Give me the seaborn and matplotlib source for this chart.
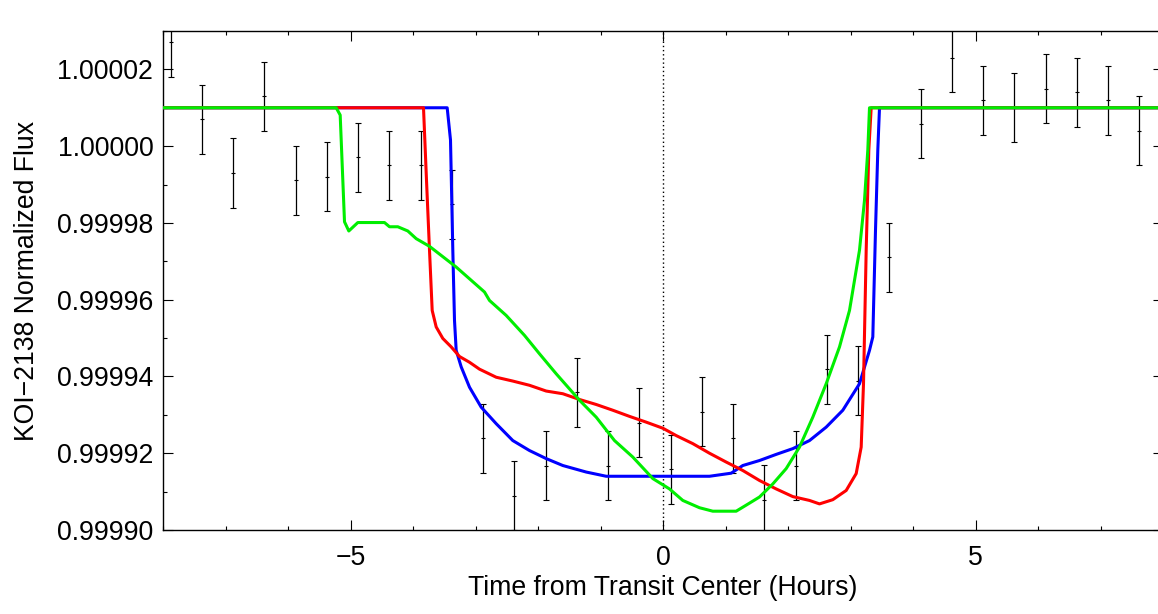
import numpy as np
import pandas as pd
import matplotlib
matplotlib.use("Agg")
import matplotlib.pyplot as plt
import seaborn as sns
from matplotlib.ticker import MultipleLocator, FormatStrFormatter

# ---- data points (binned observations) ----
obs_time = [-7.88, -7.38, -6.88, -6.38, -5.88, -5.38, -4.88, -4.38,
            -3.88, -3.38, -2.88, -2.38, -1.88, -1.38, -0.88, -0.38,
            0.12, 0.62, 1.12, 1.62, 2.12, 2.62, 3.12, 3.62,
            4.12, 4.62, 5.12, 5.62, 6.12, 6.62, 7.12, 7.62]
obs_flux = [1.0000271, 1.0000070, 0.9999930, 1.0000130, 0.9999911, 0.9999920, 0.9999971, 0.9999950,
            0.9999950, 0.9999849, 0.9999239, 0.9999089, 0.9999168, 0.9999359, 0.9999168, 0.9999279,
            0.9999158, 0.9999308, 0.9999239, 0.9999079, 0.9999168, 0.9999419, 0.9999389, 0.9999710,
            1.0000059, 1.0000230, 1.0000119, 1.0000100, 1.0000150, 1.0000140, 1.0000119, 1.0000040]
obs_err = [0.0000090] * 32

# ---- model curves ----
blue_t = [-8.0, -3.453, -3.40, -3.363, -3.336, -3.309, -3.229, -3.096, -2.909, -2.669, -2.403,
          -2.136, -1.869, -1.603, -1.229, -0.909, 0.744, 1.091, 1.277, 1.544, 1.811, 2.077,
          2.344, 2.611, 2.877, 3.144, 3.304, 3.357, 3.40, 3.437, 3.464, 8.0]
blue_f = [1.0000100, 1.0000100, 1.0000016, 0.9999729, 0.9999546, 0.9999468, 0.9999425, 0.9999372,
          0.9999320, 0.9999277, 0.9999233, 0.9999207, 0.9999186, 0.9999168, 0.9999151, 0.9999140,
          0.9999140, 0.9999148, 0.9999168, 0.9999181, 0.9999197, 0.9999212, 0.9999233, 0.9999268,
          0.9999312, 0.9999381, 0.9999468, 0.9999503, 0.9999781, 0.9999990, 1.0000100, 1.0000100]

red_t = [-8.0, -3.832, -3.784, -3.736, -3.693, -3.629, -3.523, -3.389, -3.256, -3.096, -2.936,
         -2.669, -2.403, -2.136, -1.869, -1.603, -1.336, -1.069, -0.803, -0.536, -0.269, 0.0,
         0.211, 0.477, 0.744, 1.011, 1.277, 1.544, 1.811, 2.077, 2.344, 2.504, 2.717, 2.931,
         3.091, 3.171, 3.208, 3.251, 3.293, 3.331, 8.0]
red_f = [1.0000100, 1.0000100, 0.9999911, 0.9999729, 0.9999572, 0.9999529, 0.9999499, 0.9999477,
         0.9999452, 0.9999437, 0.9999419, 0.9999398, 0.9999388, 0.9999377, 0.9999362, 0.9999355,
         0.9999340, 0.9999327, 0.9999312, 0.9999296, 0.9999281, 0.9999265, 0.9999246, 0.9999225,
         0.9999200, 0.9999177, 0.9999155, 0.9999129, 0.9999107, 0.9999087, 0.9999077, 0.9999068,
         0.9999079, 0.9999103, 0.9999147, 0.9999216, 0.9999381, 0.9999729, 0.9999990, 1.0000100,
         1.0000100]

green_t = [-8.0, -5.229, -5.165, -5.096, -5.027, -4.883, -4.456, -4.376, -4.243, -4.083, -3.949,
           -3.736, -3.309, -2.856, -2.776, -2.509, -2.216, -1.976, -1.709, -1.336, -1.069, -0.776,
           -0.483, -0.163, 0.104, 0.317, 0.584, 0.797, 1.171, 1.384, 1.544, 1.757, 1.971, 2.184,
           2.397, 2.611, 2.824, 2.984, 3.144, 3.224, 3.277, 3.304, 8.0]
green_f = [1.0000100, 1.0000100, 1.0000081, 0.9999803, 0.9999779, 0.9999801, 0.9999801, 0.9999790,
           0.9999790, 0.9999779, 0.9999759, 0.9999739, 0.9999685, 0.9999620, 0.9999598, 0.9999559,
           0.9999507, 0.9999459, 0.9999407, 0.9999338, 0.9999294, 0.9999233, 0.9999190, 0.9999134,
           0.9999107, 0.9999077, 0.9999058, 0.9999049, 0.9999049, 0.9999070, 0.9999086, 0.9999120,
           0.9999160, 0.9999216, 0.9999294, 0.9999381, 0.9999477, 0.9999572, 0.9999729, 0.9999859,
           0.9999990, 1.0000100, 1.0000100]

sns.set_theme(style="ticks")
plt.rcParams['font.family'] = ['Liberation Sans', 'DejaVu Sans']
plt.rcParams['axes.formatter.useoffset'] = False
plt.rcParams['text.color'] = 'black'
plt.rcParams['axes.labelcolor'] = 'black'

fig = plt.figure(figsize=(11.58, 6.14), dpi=100)
ax = fig.add_axes([163 / 1158, 1 - 530 / 614, 1000 / 1158, (530 - 31) / 614])

ax.axvline(0, color='black', lw=1.0, ls=(0, (1, 2.0)), zorder=1)

ax.errorbar(obs_time, obs_flux, yerr=obs_err, fmt='_', ms=3, mew=0.8,
            color='black', ecolor='black', elinewidth=0.9, capsize=2.5, capthick=0.9, zorder=2)

df_b = pd.DataFrame({'t': blue_t, 'f': blue_f})
df_r = pd.DataFrame({'t': red_t, 'f': red_f})
df_g = pd.DataFrame({'t': green_t, 'f': green_f})
sns.lineplot(data=df_b, x='t', y='f', ax=ax, color='#0000ff', lw=2.2, sort=False, estimator=None, zorder=3)
sns.lineplot(data=df_r, x='t', y='f', ax=ax, color='#ff0000', lw=2.2, sort=False, estimator=None, zorder=4)
sns.lineplot(data=df_g, x='t', y='f', ax=ax, color='#00ee00', lw=2.2, sort=False, estimator=None, zorder=5)

ax.set_xlim(-8, 8)
ax.set_ylim(0.99990, 1.00003)
ax.xaxis.set_major_locator(MultipleLocator(5))
ax.xaxis.set_minor_locator(MultipleLocator(1))
ax.yaxis.set_major_locator(MultipleLocator(0.00002))
ax.yaxis.set_minor_locator(MultipleLocator(0.00001))
ax.yaxis.set_major_formatter(FormatStrFormatter('%.5f'))

for s in ax.spines.values():
    s.set_linewidth(1.0)
    s.set_color('black')

FS = 19.2
ax.tick_params(which='both', direction='in', top=True, right=True, width=0.8, colors='black',
               labelsize=FS)
ax.tick_params(which='major', length=7.5)
ax.tick_params(which='minor', length=2.8)
ax.tick_params(axis='y', which='major', pad=7)
ax.tick_params(axis='x', which='major', pad=10.5)

ax.set_xlabel('Time from Transit Center (Hours)', fontsize=FS, labelpad=3.5)
ax.set_ylabel('KOI\u22122138 Normalized Flux', fontsize=FS, labelpad=12)

fig.savefig('out.png', dpi=100)
